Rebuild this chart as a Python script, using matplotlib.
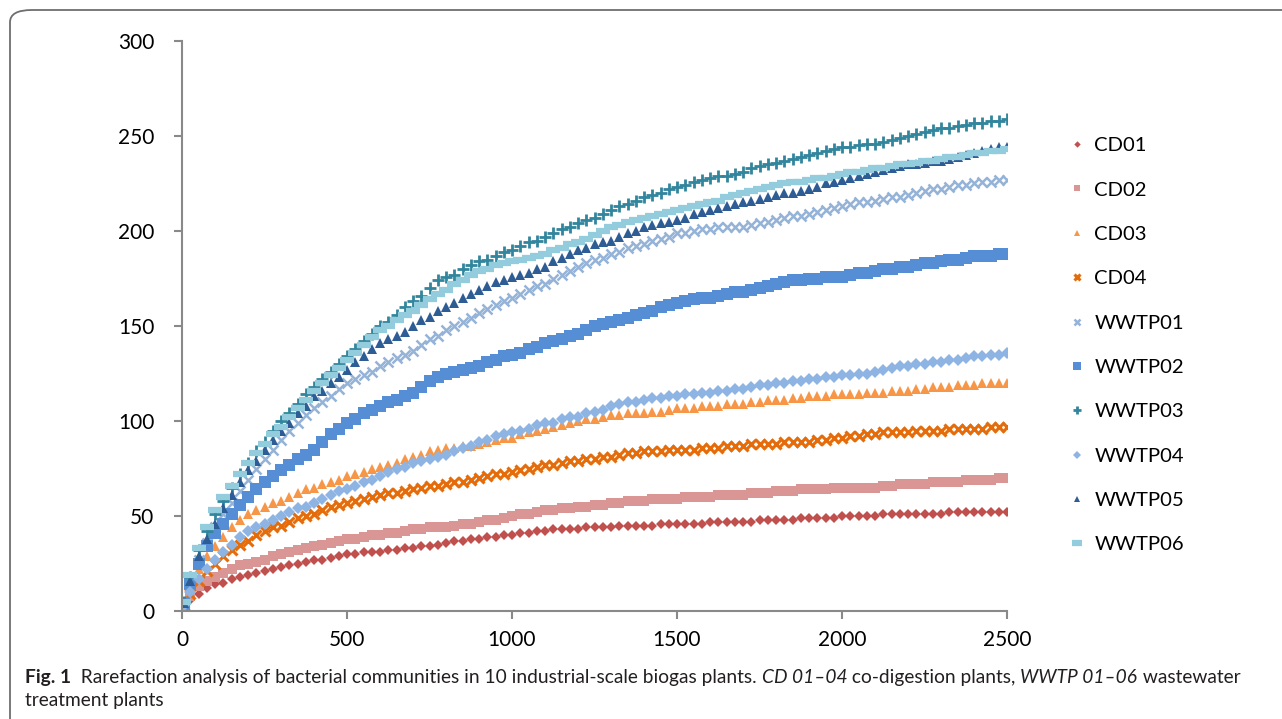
import matplotlib
matplotlib.use("Agg")
import matplotlib.pyplot as plt
from matplotlib.patches import FancyBboxPatch

# rarefaction: number of sequences sampled (x) vs OTUs observed (y)
seqs = [5] + list(range(25, 2501, 25))

cd01 = [2,
        6, 9, 12, 14, 15, 17, 18, 19, 20, 21,
        22, 23, 24, 25, 26, 27, 27, 28, 29, 30,
        30, 31, 31, 31, 32, 32, 33, 33, 34, 34,
        35, 36, 37, 37, 38, 38, 39, 39, 40, 40,
        41, 41, 42, 42, 43, 43, 43, 43, 44, 44,
        44, 44, 45, 45, 45, 45, 45, 46, 46, 46,
        46, 46, 46, 47, 47, 47, 47, 47, 47, 48,
        48, 48, 48, 48, 49, 49, 49, 49, 49, 50,
        50, 50, 50, 50, 51, 51, 51, 51, 51, 51,
        51, 51, 52, 52, 52, 52, 52, 52, 52, 52]
cd02 = [3,
        8, 13, 16, 18, 20, 22, 24, 25, 26, 27,
        29, 30, 31, 32, 33, 34, 35, 36, 37, 38,
        38, 39, 40, 40, 41, 41, 42, 43, 43, 44,
        44, 44, 45, 46, 46, 47, 48, 48, 49, 50,
        51, 51, 52, 53, 53, 54, 54, 55, 55, 56,
        56, 57, 57, 58, 58, 58, 59, 59, 59, 59,
        60, 60, 60, 60, 61, 61, 61, 61, 62, 62,
        62, 63, 63, 63, 64, 64, 64, 64, 65, 65,
        65, 65, 65, 65, 66, 66, 67, 67, 67, 67,
        68, 68, 68, 68, 69, 69, 69, 69, 70, 70]
cd03 = [3,
        12, 22, 29, 34, 39, 44, 48, 51, 53, 55,
        57, 58, 60, 62, 64, 65, 67, 68, 69, 71,
        72, 73, 75, 76, 77, 78, 80, 81, 82, 84,
        85, 86, 86, 87, 87, 88, 89, 90, 91, 91,
        93, 94, 95, 96, 97, 98, 99, 100, 101, 101,
        102, 103, 103, 104, 104, 104, 105, 105, 106, 107,
        107, 107, 108, 108, 108, 109, 109, 109, 110, 110,
        111, 111, 111, 112, 112, 113, 113, 113, 114, 114,
        114, 114, 115, 115, 115, 116, 116, 116, 117, 117,
        118, 118, 118, 119, 119, 119, 120, 120, 120, 120]
cd04 = [3,
        9, 16, 21, 25, 29, 32, 35, 37, 40, 42,
        44, 45, 47, 49, 50, 51, 53, 55, 56, 57,
        58, 59, 60, 61, 62, 62, 63, 64, 65, 66,
        66, 67, 68, 68, 69, 70, 71, 72, 72, 73,
        74, 75, 76, 77, 77, 78, 79, 79, 80, 80,
        81, 81, 82, 83, 83, 84, 84, 84, 85, 85,
        85, 85, 86, 86, 86, 87, 87, 87, 88, 88,
        88, 88, 89, 89, 89, 89, 90, 90, 91, 91,
        92, 92, 93, 93, 94, 94, 94, 94, 95, 95,
        95, 95, 96, 96, 96, 96, 96, 97, 97, 97]
wwtp01 = [4,
          15, 27, 36, 44, 51, 57, 63, 69, 75, 80,
          85, 90, 95, 99, 103, 107, 110, 113, 117, 120,
          122, 124, 126, 129, 131, 133, 135, 137, 140, 143,
          145, 148, 150, 152, 154, 157, 159, 161, 163, 165,
          167, 169, 171, 172, 175, 177, 179, 181, 183, 185,
          186, 188, 189, 191, 192, 193, 195, 196, 197, 199,
          199, 200, 201, 201, 202, 202, 202, 202, 203, 204,
          205, 206, 207, 208, 208, 209, 210, 211, 212, 213,
          214, 215, 215, 216, 217, 218, 218, 219, 220, 221,
          222, 222, 223, 224, 224, 225, 226, 226, 227, 227]
wwtp02 = [4,
          14, 25, 34, 41, 46, 51, 56, 60, 64, 68,
          71, 74, 77, 80, 82, 85, 89, 93, 96, 99,
          101, 104, 106, 108, 110, 111, 113, 115, 118, 121,
          123, 125, 126, 127, 128, 129, 131, 132, 134, 135,
          136, 138, 139, 141, 142, 143, 145, 146, 148, 150,
          151, 152, 153, 154, 156, 157, 158, 160, 161, 162,
          163, 164, 165, 165, 166, 167, 168, 168, 169, 170,
          171, 172, 173, 174, 174, 175, 175, 176, 176, 176,
          177, 178, 178, 179, 180, 180, 181, 181, 182, 183,
          183, 184, 185, 185, 186, 187, 187, 187, 188, 188]
wwtp03 = [5,
          18, 32, 42, 51, 58, 65, 72, 78, 84, 89,
          95, 100, 104, 109, 114, 118, 122, 126, 130, 134,
          138, 142, 146, 150, 152, 156, 160, 163, 166, 170,
          174, 176, 177, 180, 182, 184, 185, 187, 189, 190,
          192, 194, 195, 197, 199, 201, 202, 204, 206, 207,
          209, 211, 213, 214, 216, 218, 219, 220, 222, 223,
          224, 226, 227, 228, 229, 229, 230, 231, 233, 234,
          235, 236, 237, 238, 239, 240, 241, 242, 243, 244,
          244, 245, 246, 246, 247, 248, 249, 250, 251, 252,
          253, 254, 254, 255, 256, 257, 257, 258, 258, 259]
wwtp04 = [3,
          10, 17, 22, 27, 31, 35, 39, 42, 44, 46,
          48, 50, 52, 54, 55, 57, 59, 61, 63, 64,
          66, 68, 69, 71, 73, 75, 76, 78, 79, 80,
          81, 82, 84, 86, 87, 89, 90, 92, 93, 94,
          95, 96, 98, 99, 99, 101, 102, 102, 104, 105,
          106, 108, 109, 110, 110, 111, 112, 112, 113, 113,
          114, 114, 115, 115, 116, 116, 117, 117, 118, 119,
          119, 120, 120, 121, 121, 122, 122, 123, 123, 124,
          124, 125, 125, 126, 127, 128, 129, 129, 130, 130,
          131, 131, 132, 132, 133, 134, 134, 135, 135, 136]
wwtp05 = [4,
          16, 29, 38, 46, 54, 61, 68, 74, 79, 85,
          90, 95, 99, 104, 108, 113, 116, 120, 123, 127,
          131, 134, 138, 141, 143, 145, 147, 150, 153, 155,
          158, 160, 162, 165, 167, 169, 171, 173, 174, 176,
          177, 178, 180, 181, 184, 186, 188, 190, 191, 193,
          194, 195, 197, 199, 200, 202, 203, 204, 205, 206,
          207, 209, 210, 211, 212, 213, 214, 215, 216, 217,
          218, 219, 220, 220, 221, 222, 223, 225, 226, 227,
          228, 229, 230, 231, 232, 233, 234, 235, 235, 236,
          237, 237, 238, 239, 240, 241, 242, 243, 244, 244]
wwtp06 = [5,
          19, 33, 44, 53, 60, 66, 72, 78, 83, 88,
          93, 97, 102, 107, 111, 116, 120, 124, 128, 132,
          136, 140, 144, 148, 150, 153, 156, 158, 161, 164,
          167, 169, 172, 174, 177, 179, 180, 182, 183, 184,
          185, 186, 187, 188, 190, 191, 193, 194, 196, 198,
          200, 202, 203, 205, 206, 207, 208, 209, 210, 211,
          212, 213, 214, 215, 216, 218, 219, 220, 221, 222,
          223, 224, 225, 226, 226, 227, 228, 228, 229, 230,
          231, 231, 232, 233, 233, 234, 235, 235, 236, 237,
          237, 238, 239, 239, 240, 241, 241, 242, 242, 243]

names = ["CD01", "CD02", "CD03", "CD04", "WWTP01",
         "WWTP02", "WWTP03", "WWTP04", "WWTP05", "WWTP06"]
series = [cd01, cd02, cd03, cd04, wwtp01, wwtp02, wwtp03, wwtp04, wwtp05, wwtp06]

# marker, colour, size, edge width
styles = [("D", "#C0504D", 5.0, 0.0),
          ("s", "#D99694", 7.0, 0.0),
          ("^", "#F79646", 7.0, 0.0),
          ("x", "#E46C0A", 6.5, 2.2),
          ("x", "#95B3D7", 7.0, 1.8),
          ("s", "#558ED5", 8.5, 0.0),
          ("+", "#31859C", 8.5, 2.0),
          ("D", "#8EB4E3", 6.0, 0.0),
          ("^", "#2E5C94", 7.5, 0.0),
          ("_", "#93CDDD", 10.0, 4.5)]

plt.rcParams['font.family'] = ['Lato', 'DejaVu Sans']

W, H = 1282, 719
fig = plt.figure(figsize=(W / 100, H / 100), dpi=100)

# rounded frame around the figure
frame = FancyBboxPatch((10 / W, -0.1), 1.2, 1 - 10 / H + 0.1,
                       boxstyle="round,pad=0,rounding_size=0.017",
                       transform=fig.transFigure, fill=False,
                       edgecolor="#6d6e71", linewidth=1.3)
fig.patches.append(frame)

ax = fig.add_axes([182 / W, 1 - 611 / H, 825 / W, 570 / H])

for vals, name, (m, c, ms, mew) in zip(series, names, styles):
    ax.plot(seqs, vals, linestyle="none", marker=m, color=c, markersize=ms,
            markeredgewidth=mew, label=name)

ax.set_xlim(0, 2500)
ax.set_ylim(0, 300)
ax.set_xticks(range(0, 2501, 500))
ax.set_yticks(range(0, 301, 50))
for s in ["top", "right"]:
    ax.spines[s].set_visible(False)
for s in ["left", "bottom"]:
    ax.spines[s].set_color("#898989")
    ax.spines[s].set_linewidth(1.5)
ax.tick_params(axis="both", colors="#898989", width=1.5, length=6,
               labelsize=15, labelcolor="black")
ax.tick_params(axis="x", pad=8)
ax.tick_params(axis="y", pad=14)

ax.legend(loc="upper left", bbox_to_anchor=(1068 / W, 1 - 137 / H),
          bbox_transform=fig.transFigure, frameon=False, fontsize=14.6,
          handlelength=0.9, handletextpad=0.4, labelspacing=1.34,
          markerscale=0.65, borderpad=0, borderaxespad=0)

# caption with bold / italic parts
parts = [("Fig. 1", "bold", "normal"),
         ("  Rarefaction analysis of bacterial communities in 10 industrial-scale biogas plants. ", "normal", "normal"),
         ("CD 01\u201304", "normal", "italic"),
         (" co-digestion plants, ", "normal", "normal"),
         ("WWTP 01\u201306", "normal", "italic"),
         (" wastewater", "normal", "normal")]
r = fig.canvas.get_renderer()
xp = 25
for txt, fw, st in parts:
    t = fig.text(xp / W, 1 - 683 / H, txt, fontsize=13.8, fontweight=fw,
                 style=st, color="#231f20", va="baseline")
    xp += t.get_window_extent(renderer=r).width
fig.text(25 / W, 1 - 706 / H, "treatment plants", fontsize=13.8,
         color="#231f20", va="baseline")

fig.savefig("out.png", dpi=100)
